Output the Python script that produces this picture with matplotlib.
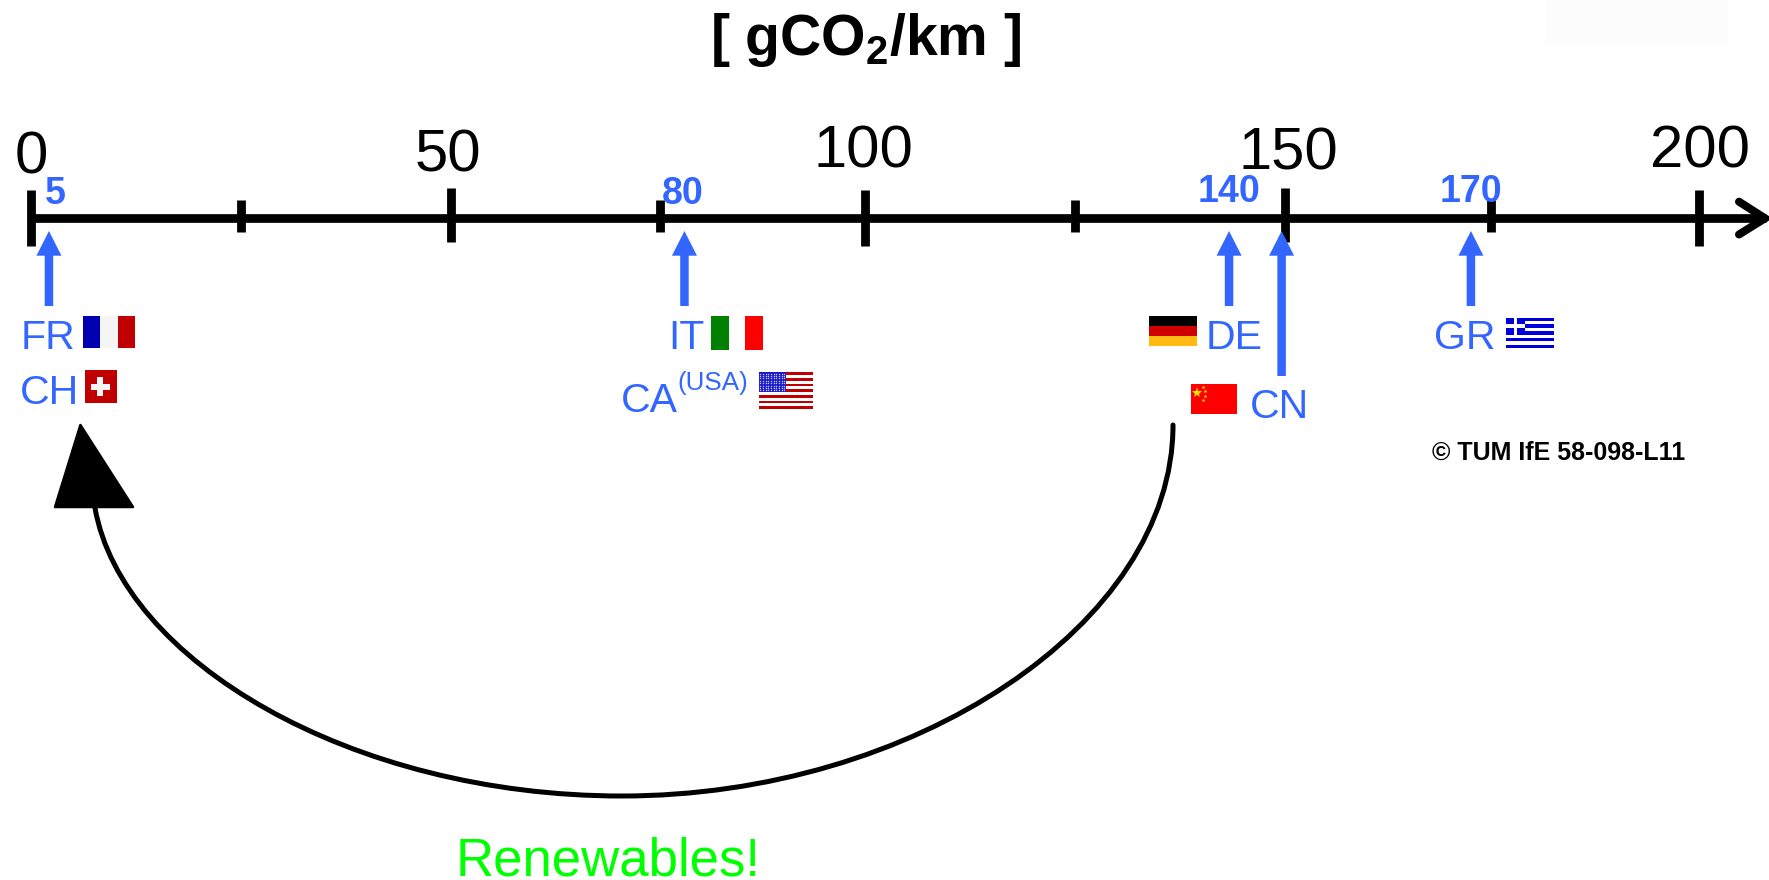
import matplotlib

matplotlib.use("Agg")
import matplotlib.pyplot as plt
from matplotlib.patches import PathPatch, Polygon, Rectangle
from matplotlib.path import Path

plt.rcParams["font.family"] = ["Liberation Sans", "DejaVu Sans"]
plt.rcParams["mathtext.default"] = "regular"

# -----------------------------
# Data
# -----------------------------
MAJOR_LABELS = ["0", "50", "100", "150", "200"]
# the drawn scale is not quite even, so these are the read tick positions
MAJOR_TICKS = [0, 50.4, 100.05, 150.4, 200.05]
MINOR_TICKS = [25.2, 75.5, 125.2, 175.1]
AXIS_END = 208.1

COUNTRY_LABELS = ["5", "80", "140", "", "170"]
# where the arrows actually sit on the drawn scale
COUNTRY_POSITIONS = [2.2, 78.4, 143.7, 150.0, 172.7]
COUNTRY_TAILS = [306, 306, 306, 376, 306]
VALUE_LABEL_X = [55, 683, 1229, 0, 1471]
VALUE_LABEL_BASE = [204, 203.5, 201.7, 0, 201.7]

MAJOR_LABEL_X = [31, 448, 863, 1288, 1700]
MAJOR_LABEL_BASE = [173, 171.7, 167, 169, 167]

BLUE = "#3366FF"
AXIS_Y = 218.3
WIDTH, HEIGHT = 1769, 880
PX = 0.72  # points per pixel at dpi 100

fig = plt.figure(figsize=(WIDTH / 100, HEIGHT / 100), dpi=100)

# value axis, x in gCO2/km, y in picture pixels
ax = fig.add_axes([0, 0, 1, 1])
ax.set_xlim(-30.6 / 8.34, (WIDTH - 30.6) / 8.34)
ax.set_ylim(HEIGHT, 0)
ax.axis("off")

# overlay for text and flags, both axes in picture pixels
ov = fig.add_axes([0, 0, 1, 1])
ov.set_xlim(0, WIDTH)
ov.set_ylim(HEIGHT, 0)
ov.axis("off")
ov.patch.set_alpha(0)


def rect(x0, x1, y0, y1, color):
    ov.add_patch(Rectangle((x0, y0), x1 - x0, y1 - y0, fc=color, ec="none", lw=0))


def label(x, y, text, size, color="black", ha="left", **kw):
    ov.text(x, y, text, fontsize=size, color=color, ha=ha, va="baseline", **kw)


# -----------------------------
# Faint patch top right and title
# -----------------------------
rect(1546, 1728, 0, 43, "#FCFCFC")
label(866, 55, r"[ gCO$_2$/km ]", 41, ha="center", fontweight="bold")

# -----------------------------
# Number line
# -----------------------------
ax.plot([0, AXIS_END], [AXIS_Y, AXIS_Y], color="black", lw=8.7 * PX, solid_capstyle="butt")
ax.plot([0, 0], [190, 245.7], color="black", lw=8.8 * PX, solid_capstyle="butt")
for v, top, bottom in zip(MAJOR_TICKS[1:], [188.3, 190, 188.3, 190], [241.7, 245.7, 241.7, 245.7]):
    ax.plot([v, v], [top, bottom], color="black", lw=8.8 * PX, solid_capstyle="butt")
for v in MINOR_TICKS:
    ax.plot([v, v], [200, 232.3], color="black", lw=8.8 * PX, solid_capstyle="butt")
ov.plot([1739, 1765, 1739], [201.7, AXIS_Y, 234.5], color="black", lw=8 * PX,
        solid_capstyle="round", solid_joinstyle="miter")

for x, base, text in zip(MAJOR_LABEL_X, MAJOR_LABEL_BASE, MAJOR_LABELS):
    label(x, base, text, 43, ha="center")

# -----------------------------
# Blue country arrows
# -----------------------------
for pos, tail in zip(COUNTRY_POSITIONS, COUNTRY_TAILS):
    ax.annotate("", xy=(pos, 231), xytext=(pos, tail),
                arrowprops=dict(width=8.5 * PX, headwidth=25 * PX, headlength=24.7 * PX,
                                shrink=0, fc=BLUE, ec="none", lw=0))
for x, base, text in zip(VALUE_LABEL_X, VALUE_LABEL_BASE, COUNTRY_LABELS):
    if text:
        label(x, base, text, 27, BLUE, ha="center", fontweight="bold")

label(21, 349.3, "FR", 29.5, BLUE)
label(20, 404, "CH", 29.5, BLUE)
label(668, 349.3, "IT", 29.5, BLUE)
label(621, 411.7, "CA", 29.5, BLUE)
label(677, 390, "(USA)", 18.7, BLUE)
label(1206, 349.3, "DE", 29.5, BLUE)
label(1250, 418, "CN", 29.5, BLUE)
label(1434, 349.3, "GR", 29.5, BLUE)
label(1432, 460, "© TUM IfE 58-098-L11", 18, fontweight="bold")

# -----------------------------
# Flags
# -----------------------------
# France
rect(82.7, 100, 316, 348.3, "#0000B0")
rect(100, 118, 316, 348.3, "#F5F5F5")
rect(118, 135, 316, 348.3, "#C00000")

# Switzerland
rect(85, 116.7, 370, 402.7, "#C00000")
rect(90.6, 110, 383.7, 389.7, "#F5F5F5")
rect(97.3, 103.3, 377, 396.4, "#F5F5F5")

# Italy
rect(710.6, 729, 316, 350, "#008000")
rect(745.4, 763, 316, 350, "#FF0000")

# USA
for i in range(13):
    step = (409 - 372.3) / 13
    rect(758.8, 813.2, 372.3 + i * step, 372.3 + (i + 1) * step, "#C00000" if i % 2 == 0 else "#FFFFFF")
rect(758.8, 785.6, 372.3, 391.7, "#1A1AC8")
for row in range(8):
    for col in range(10):
        ov.plot(760.3 + col * 2.65, 373.6 + row * 2.4, "s", ms=0.9, color="#C8C8F0", mew=0)

# Germany
rect(1149, 1197, 316, 326, "#000000")
rect(1149, 1197, 326, 336, "#D00000")
rect(1149, 1197, 336, 346, "#FFBB11")

# China
rect(1190.8, 1237, 384.3, 414.3, "#FF0000")
ov.plot(1196.5, 392.7, "*", ms=8, color="#FFE000", mew=0)
for sx, sy in [(1203, 387), (1205, 391.5), (1205, 396), (1203, 400.5)]:
    ov.plot(sx, sy, "*", ms=3, color="#FFE000", mew=0)

# Greece
for i in range(9):
    step = (348.3 - 317.7) / 9
    rect(1505.8, 1553.6, 317.7 + i * step, 317.7 + (i + 1) * step, "#0000DD" if i % 2 == 0 else "#FFFFFF")
rect(1505.8, 1525, 317.7, 334.7, "#0000DD")
rect(1505.8, 1525, 324.5, 327.9, "#FFFFFF")
rect(1513.7, 1517.1, 317.7, 334.7, "#FFFFFF")

# -----------------------------
# Black curved arrow and green note
# -----------------------------
arc = Path(
    [(1173, 425), (1173, 625), (912, 796), (622, 796), (350, 796), (122, 660), (95, 508)],
    [Path.MOVETO, Path.CURVE4, Path.CURVE4, Path.CURVE4, Path.CURVE4, Path.CURVE4, Path.CURVE4],
)
ov.add_patch(PathPatch(arc, fc="none", ec="black", lw=5 * PX, capstyle="round"))
ov.add_patch(Polygon([(80.4, 425), (133, 507), (55, 507)], closed=True, fc="black", ec="black",
                     lw=2.5 * PX, joinstyle="round"))

label(608, 875, "Renewables!", 38, "#00FF00", ha="center")

fig.savefig("out.png", dpi=100)
